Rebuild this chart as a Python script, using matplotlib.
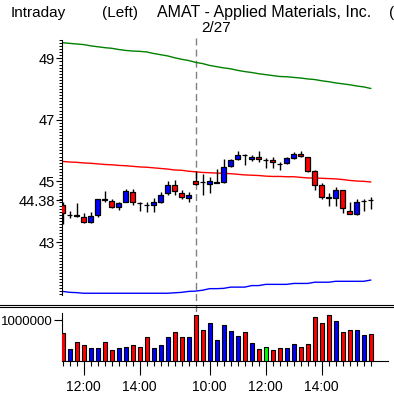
import matplotlib
matplotlib.use("Agg")
import matplotlib.pyplot as plt
import matplotlib.transforms as mtransforms
from matplotlib.lines import Line2D
import numpy as np
import pandas as pd

plt.rcParams['font.family'] = ['Liberation Sans', 'DejaVu Sans']

# 15-minute bars, two sessions
times = list(pd.date_range("2014-02-26 11:15", "2014-02-26 15:45", freq="15min")) + \
        list(pd.date_range("2014-02-27 09:30", "2014-02-27 15:45", freq="15min"))

opens = [44.23, 43.88, 43.88, 43.84, 43.67, 43.88, 44.40, 44.35, 44.15, 44.32,
         44.64, 44.29, 44.23, 44.21, 44.32, 44.61, 44.88, 44.62, 44.45,
         45.00, 44.97, 44.90, 44.95, 44.97, 45.49, 45.73, 45.85, 45.73, 45.79,
         45.68, 45.67, 45.55, 45.60, 45.76, 45.89, 45.80, 45.32, 44.88, 44.47,
         44.46, 44.70, 44.02, 43.93, 44.34, 44.39]
highs = [44.31, 44.02, 44.28, 43.95, 44.00, 44.43, 44.67, 44.40, 44.32, 44.75,
         44.75, 44.33, 44.32, 44.45, 44.64, 45.00, 45.02, 44.70, 44.64,
         45.32, 45.22, 45.13, 45.38, 45.71, 45.73, 45.98, 45.87, 45.86, 45.98,
         45.75, 45.78, 45.62, 45.80, 45.94, 45.97, 45.80, 45.37, 44.93, 44.61,
         44.80, 44.70, 44.32, 44.43, 44.43, 44.48]
lows = [43.61, 43.80, 43.83, 43.63, 43.63, 43.83, 44.32, 44.12, 44.05, 44.30,
        44.23, 44.02, 43.99, 43.99, 44.28, 44.56, 44.56, 44.43, 44.30,
        44.86, 44.56, 44.61, 44.92, 44.95, 45.47, 45.68, 45.53, 45.64, 45.62,
        45.44, 45.42, 45.35, 45.54, 45.73, 45.78, 45.29, 44.70, 44.43, 44.18,
        44.19, 43.97, 43.91, 43.89, 44.01, 44.10]
closes = [43.96, 43.89, 43.87, 43.67, 43.85, 44.43, 44.39, 44.15, 44.27, 44.68,
          44.32, 44.28, 44.22, 44.30, 44.56, 44.88, 44.67, 44.48, 44.54,
          44.91, 44.96, 44.99, 44.96, 45.47, 45.67, 45.86, 45.84, 45.79, 45.71,
          45.68, 45.61, 45.54, 45.76, 45.89, 45.81, 45.33, 44.88, 44.48, 44.46,
          44.70, 44.12, 43.93, 44.30, 44.35, 44.38]
volumes = [0.69, 0.29, 0.47, 0.39, 0.32, 0.32, 0.47, 0.27, 0.32, 0.34,
           0.39, 0.34, 0.59, 0.32, 0.39, 0.59, 0.72, 0.59, 0.59,
           1.12, 0.77, 0.94, 0.52, 0.87, 0.74, 0.62, 0.72, 0.44, 0.29,
           0.34, 0.27, 0.32, 0.32, 0.42, 0.34, 0.42, 1.07, 0.94, 1.12,
           0.97, 0.72, 0.77, 0.77, 0.64, 0.67]
volumes = [v * 1e6 for v in volumes]

upper_line = [49.51, 49.49, 49.47, 49.45, 49.41, 49.38, 49.35, 49.33, 49.29, 49.26,
              49.24, 49.23, 49.21, 49.16, 49.12, 49.08, 49.02, 48.97, 48.93,
              48.87, 48.83, 48.77, 48.73, 48.69, 48.66, 48.61, 48.57, 48.54, 48.50,
              48.47, 48.44, 48.41, 48.40, 48.38, 48.36, 48.33, 48.31, 48.27, 48.24,
              48.20, 48.17, 48.14, 48.10, 48.07, 48.02]
mid_line = [45.64, 45.62, 45.61, 45.59, 45.58, 45.56, 45.54, 45.53, 45.51, 45.50,
            45.48, 45.46, 45.45, 45.43, 45.41, 45.39, 45.36, 45.35, 45.32,
            45.30, 45.28, 45.27, 45.26, 45.25, 45.24, 45.22, 45.20, 45.19, 45.18,
            45.16, 45.15, 45.15, 45.14, 45.14, 45.12, 45.10, 45.10, 45.09, 45.08,
            45.07, 45.05, 45.02, 45.00, 44.99, 44.97]
lower_line = [41.40, 41.37, 41.36, 41.34, 41.34, 41.34, 41.34, 41.34, 41.34, 41.34,
              41.34, 41.34, 41.34, 41.34, 41.34, 41.34, 41.355, 41.37, 41.40,
              41.41, 41.44, 41.49, 41.49, 41.50, 41.54, 41.54, 41.54, 41.59, 41.59,
              41.63, 41.63, 41.63, 41.63, 41.66, 41.66, 41.66, 41.70, 41.70, 41.70,
              41.73, 41.73, 41.73, 41.73, 41.73, 41.77]

price_ticks = [43, 45, 47, 49]
last_price = 44.38
title_left = "Intraday"
title_mid = "(Left)"
title_name = "AMAT - Applied Materials, Inc."

W, H = 394, 397


def rect(left, top, right, bottom):
    return [left / W, 1 - bottom / H, (right - left) / W, (bottom - top) / H]


def body_color(o, c):
    if c > o:
        return "#0000ff"
    if c < o:
        return "#ff0000"
    return "#00ff00"


fig = plt.figure(figsize=(3.94, 3.97), dpi=100)
ax = fig.add_axes(rect(61.5, 40, 394, 295))
axv = fig.add_axes(rect(61.5, 313, 388, 361))
for a in (ax, axv):
    a.patch.set_visible(False)
    for s in ("top", "right"):
        a.spines[s].set_visible(False)
    a.spines["left"].set_linewidth(0.8)
ax.spines["bottom"].set_visible(False)
axv.spines["bottom"].set_linewidth(0.8)

x = np.arange(len(times))
colors = [body_color(o, c) for o, c in zip(opens, closes)]

# moving lines
ax.plot(x, upper_line, color="#008000", lw=1.0, zorder=2)
ax.plot(x, mid_line, color="#ff0000", lw=1.0, zorder=2)
ax.plot(x, lower_line, color="#0000ff", lw=1.0, zorder=2)

# candles
ax.vlines(x, lows, highs, color="black", lw=1.0, zorder=3)
bottoms = [min(o, c) for o, c in zip(opens, closes)]
heights = [abs(c - o) for o, c in zip(opens, closes)]
ax.bar(x, heights, bottom=bottoms, width=0.7, color=colors, edgecolor="black",
       linewidth=0.9, zorder=4)

ax.set_xlim(-0.171, -0.171 + 47.5)
ax.set_ylim(41.283, 49.576)
ax.set_xticks([])
ax.set_yticks(price_ticks + [last_price])
ax.set_yticklabels([str(t) for t in price_ticks] + [f"{last_price:.2f}"], fontsize=10.5)
ax.set_yticks(np.arange(41.3, 49.6, 0.1), minor=True)
ax.tick_params(axis="y", which="major", length=4, width=0.8, pad=0.5)
ax.tick_params(axis="y", which="minor", length=2, width=0.7)

# volume
axv.bar(x, volumes, width=0.62, color=colors, edgecolor="black", linewidth=0.8, zorder=3)
axv.set_xlim(-0.171, -0.171 + 46.64)
axv.set_ylim(0, 1.175e6)
axv.set_yticks([1e6])
axv.set_yticklabels(["1000000"], fontsize=9.5)
axv.tick_params(axis="y", length=6, width=0.8, pad=0)

major_idx = [i for i, t in enumerate(times) if t.minute == 0 and t.hour % 2 == 0]
axv.set_xticks(major_idx)
axv.set_xticklabels([times[i].strftime("%H:%M") for i in major_idx], fontsize=10)
axv.set_xticks(x, minor=True)
axv.tick_params(axis="x", which="major", length=10, width=0.8, pad=4)
axv.tick_params(axis="x", which="minor", length=3.6, width=0.8)

# day separator
day_start = next(i for i in range(1, len(times)) if times[i].date() != times[i - 1].date())
trans = mtransforms.blended_transform_factory(ax.transData, fig.transFigure)
fig.add_artist(Line2D([day_start, day_start], [1 - 38 / H, 1 - 361 / H], transform=trans,
                      color="#808080", lw=1.0, linestyle=(0, (5, 3)), zorder=-1))
fig.text(day_start + 0.86, 1 - 32.5 / H, f"{times[day_start].month}/{times[day_start].day}",
         transform=trans, fontsize=11, ha="left", va="baseline")

# panel separator
for yy in (304.7, 306.9):
    fig.add_artist(Line2D([0, 1], [1 - yy / H] * 2, transform=fig.transFigure,
                          color="black", lw=0.8))

# header
fig.text(10.7 / W, 1 - 16.5 / H, title_left, fontsize=11, va="baseline")
fig.text(101.7 / W, 1 - 16.5 / H, title_mid, fontsize=11, va="baseline")
fig.text(156.7 / W, 1 - 16.5 / H, title_name, fontsize=11.5, va="baseline")
fig.text(389.5 / W, 1 - 16.5 / H, "(", fontsize=11, va="baseline")

fig.savefig("out.png", dpi=100)
